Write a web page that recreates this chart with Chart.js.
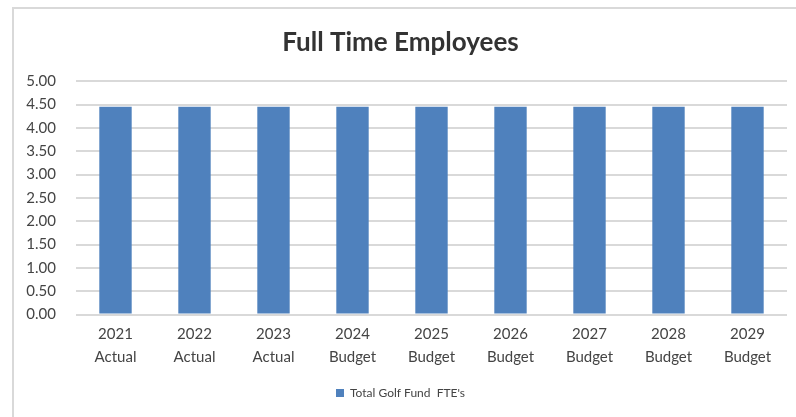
<!DOCTYPE html>
<html>
<head>
<meta charset="utf-8">
<script src="https://cdn.jsdelivr.net/npm/chart.js@4.4.1/dist/chart.umd.min.js"></script>
<style>
  html, body { margin: 0; padding: 0; background: #fff; }
  #frame {
    position: absolute; left: 12px; top: 7px; width: 784px; height: 410px;
    border-left: 2px solid #d9d9d9; border-top: 2px solid #d9d9d9; box-sizing: border-box;
  }
  #wrap { position: absolute; left: 0; top: 0; width: 782px; height: 408px; }
</style>
</head>
<body>
<div id="frame"><div id="wrap"><canvas id="fte"></canvas></div></div>
<script>
// Datos del gráfico
const years = ['2021', '2022', '2023', '2024', '2025', '2026', '2027', '2028', '2029'];
const kinds = ['Actual', 'Actual', 'Actual', 'Budget', 'Budget', 'Budget', 'Budget', 'Budget', 'Budget'];
const fteValues = [4.45, 4.45, 4.45, 4.45, 4.45, 4.45, 4.45, 4.45, 4.45];
const seriesName = "Total Golf Fund  FTE's";

const labels = years.map((y, i) => [y, kinds[i]]);
const fontFamily = "Lato, 'Open Sans', sans-serif";

new Chart(document.getElementById('fte'), {
    type: 'bar',
    data: {
        labels: labels,
        datasets: [{
            label: seriesName,
            data: fteValues,
            backgroundColor: '#4f81bd',
            categoryPercentage: 1,
            barPercentage: 0.41
        }]
    },
    options: {
        responsive: true,
        maintainAspectRatio: false,
        animation: false,
        layout: { padding: { left: 0, right: 9, top: 7, bottom: 8 } },
        plugins: {
            title: {
                display: true,
                text: 'Full Time Employees',
                color: '#333',
                font: { family: fontFamily, size: 26, weight: 'bold' },
                padding: { top: 11, bottom: 23 }
            },
            legend: {
                position: 'bottom',
                labels: {
                    color: '#444',
                    font: { family: fontFamily, size: 12 },
                    boxWidth: 8, boxHeight: 8,
                    padding: 10
                }
            },
            tooltip: { enabled: false }
        },
        scales: {
            y: {
                min: 0, max: 5,
                afterFit: scale => { scale.width = 62; },
                ticks: {
                    stepSize: 0.5,
                    color: '#444',
                    font: { family: fontFamily, size: 15 },
                    callback: v => v.toFixed(2),
                    padding: 20
                },
                grid: { color: '#d9d9d9', lineWidth: 2, drawTicks: false },
                border: { display: false }
            },
            x: {
                ticks: {
                    color: '#444',
                    font: { family: fontFamily, size: 15, lineHeight: 1.55 },
                    maxRotation: 0,
                    padding: 8
                },
                grid: { display: false, drawTicks: false },
                border: { display: false }
            }
        }
    }
});
</script>
</body>
</html>
